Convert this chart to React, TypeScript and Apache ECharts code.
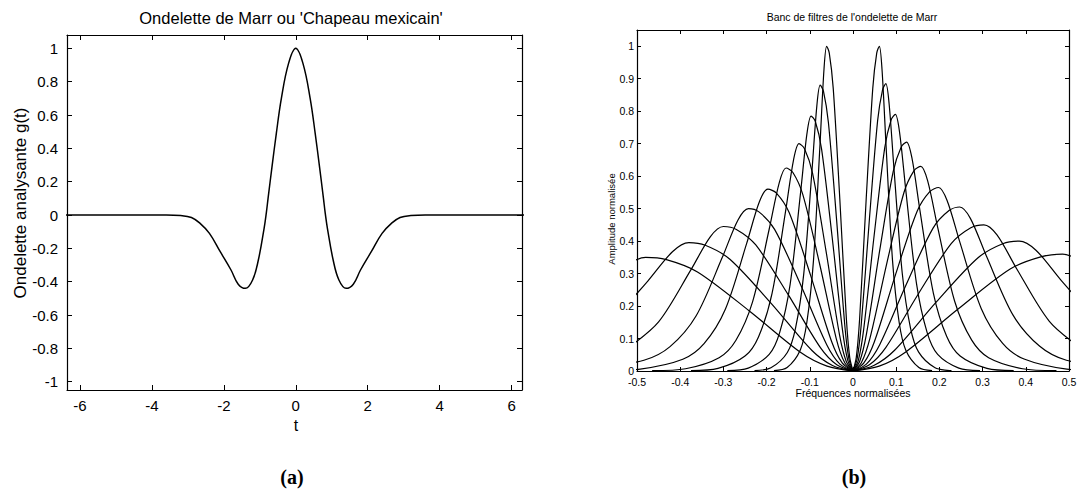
import React, { useEffect, useRef } from "react";
import * as echarts from "echarts";

// ---------- Panel (a): Marr wavelet g(t) ----------
const tValues = [-6.4, -3.6, -3.2, -2.9, -2.66, -2.4, -2.1, -1.8, -1.6, -1.4, -1.2, -1.04, -0.88, -0.82, -0.77, -0.66, -0.54, -0.4, -0.2, 0, 0.2, 0.4, 0.54, 0.66, 0.77, 0.82, 0.88, 1.04, 1.2, 1.4, 1.6, 1.8, 2.1, 2.4, 2.66, 2.9, 3.2, 3.6, 6.4];
const gValues = [0, 0, -0.003, -0.015, -0.05, -0.11, -0.22, -0.33, -0.415, -0.44, -0.39, -0.27, -0.08, 0.01, 0.1, 0.29, 0.49, 0.7, 0.91, 1.0, 0.91, 0.7, 0.49, 0.29, 0.1, 0.01, -0.08, -0.27, -0.39, -0.44, -0.415, -0.33, -0.22, -0.11, -0.05, -0.015, -0.003, 0, 0];
const aXTicks = [-6, -4, -2, 0, 2, 4, 6];
const aYTicks = [-1, -0.8, -0.6, -0.4, -0.2, 0, 0.2, 0.4, 0.6, 0.8, 1];

// ---------- Panel (b): Marr wavelet filter bank ----------
const bXTicks = [-0.5, -0.4, -0.3, -0.2, -0.1, 0, 0.1, 0.2, 0.3, 0.4, 0.5];
const bYTicks = [0, 0.1, 0.2, 0.3, 0.4, 0.5, 0.6, 0.7, 0.8, 0.9, 1];

const bankRightFreq: number[][] = [
  [0, 0.0076, 0.0153, 0.0305, 0.0458, 0.0549, 0.061, 0.0671, 0.0763, 0.0915, 0.1068, 0.122, 0.1525, 0.183],
  [0, 0.0095, 0.019, 0.038, 0.057, 0.0684, 0.076, 0.0836, 0.095, 0.114, 0.133, 0.152, 0.19, 0.228],
  [0, 0.0123, 0.0245, 0.049, 0.0735, 0.0882, 0.098, 0.1078, 0.1225, 0.147, 0.1715, 0.196, 0.245, 0.294],
  [0, 0.0155, 0.031, 0.062, 0.093, 0.1116, 0.124, 0.1364, 0.155, 0.186, 0.217, 0.248, 0.31, 0.372],
  [0, 0.0196, 0.0393, 0.0785, 0.1178, 0.1413, 0.157, 0.1727, 0.1963, 0.2355, 0.2748, 0.314, 0.3925, 0.471],
  [0, 0.0248, 0.0495, 0.099, 0.1485, 0.1782, 0.198, 0.2178, 0.2475, 0.297, 0.3465, 0.396, 0.495, 0.594],
  [0, 0.0309, 0.0618, 0.1235, 0.1853, 0.2223, 0.247, 0.2717, 0.3088, 0.3705, 0.4323, 0.494, 0.6175],
  [0, 0.0379, 0.0758, 0.1515, 0.2273, 0.2727, 0.303, 0.3333, 0.3788, 0.4545, 0.5303],
  [0, 0.0481, 0.0963, 0.1925, 0.2888, 0.3465, 0.385, 0.4235, 0.4813, 0.5775],
  [0, 0.0606, 0.1213, 0.2425, 0.3638, 0.4365, 0.485, 0.5335],
];
const bankRightAmp: number[][] = [
  [0, 0.042, 0.16, 0.529, 0.871, 0.979, 1.0, 0.93, 0.7, 0.34, 0.15, 0.065, 0.011, 0.001],
  [0, 0.037, 0.142, 0.468, 0.771, 0.866, 0.885, 0.823, 0.62, 0.301, 0.133, 0.058, 0.01, 0.001],
  [0, 0.033, 0.126, 0.418, 0.688, 0.773, 0.79, 0.735, 0.553, 0.269, 0.119, 0.051, 0.009, 0.001],
  [0, 0.03, 0.113, 0.373, 0.614, 0.69, 0.705, 0.656, 0.494, 0.24, 0.106, 0.046, 0.008, 0.001],
  [0, 0.026, 0.101, 0.333, 0.549, 0.617, 0.63, 0.586, 0.441, 0.214, 0.095, 0.041, 0.007, 0.001],
  [0, 0.024, 0.09, 0.299, 0.492, 0.553, 0.565, 0.525, 0.396, 0.192, 0.085, 0.037, 0.006, 0.001],
  [0, 0.021, 0.081, 0.267, 0.44, 0.494, 0.505, 0.47, 0.354, 0.172, 0.076, 0.033, 0.006],
  [0, 0.019, 0.072, 0.238, 0.392, 0.441, 0.45, 0.419, 0.315, 0.153, 0.068],
  [0, 0.017, 0.064, 0.212, 0.348, 0.392, 0.4, 0.372, 0.28, 0.136],
  [0, 0.015, 0.058, 0.19, 0.314, 0.352, 0.36, 0.335],
];
const bankLeftFreq: number[][] = [
  [0, -0.0076, -0.0153, -0.0305, -0.0458, -0.0549, -0.061, -0.0671, -0.0763, -0.0915, -0.1068, -0.122, -0.1525, -0.183],
  [0, -0.0095, -0.019, -0.038, -0.057, -0.0684, -0.076, -0.0836, -0.095, -0.114, -0.133, -0.152, -0.19, -0.228],
  [0, -0.0121, -0.0243, -0.0485, -0.0728, -0.0873, -0.097, -0.1067, -0.1213, -0.1455, -0.1698, -0.194, -0.2425, -0.291],
  [0, -0.0156, -0.0313, -0.0625, -0.0938, -0.1125, -0.125, -0.1375, -0.1563, -0.1875, -0.2188, -0.25, -0.3125, -0.375],
  [0, -0.0194, -0.0388, -0.0775, -0.1163, -0.1395, -0.155, -0.1705, -0.1938, -0.2325, -0.2713, -0.31, -0.3875, -0.465],
  [0, -0.0246, -0.0493, -0.0985, -0.1478, -0.1773, -0.197, -0.2167, -0.2463, -0.2955, -0.3448, -0.394, -0.4925, -0.591],
  [0, -0.0303, -0.0605, -0.121, -0.1815, -0.2178, -0.242, -0.2662, -0.3025, -0.363, -0.4235, -0.484, -0.605],
  [0, -0.0375, -0.075, -0.15, -0.225, -0.27, -0.3, -0.33, -0.375, -0.45, -0.525],
  [0, -0.0475, -0.095, -0.19, -0.285, -0.342, -0.38, -0.418, -0.475, -0.57],
  [0, -0.06, -0.12, -0.24, -0.36, -0.432, -0.48, -0.528],
];
const bankLeftAmp: number[][] = [
  [0, 0.042, 0.16, 0.529, 0.871, 0.979, 1.0, 0.93, 0.7, 0.34, 0.15, 0.065, 0.011, 0.001],
  [0, 0.037, 0.141, 0.466, 0.766, 0.862, 0.88, 0.818, 0.616, 0.299, 0.132, 0.057, 0.01, 0.001],
  [0, 0.033, 0.126, 0.415, 0.684, 0.769, 0.785, 0.73, 0.55, 0.267, 0.118, 0.051, 0.009, 0.001],
  [0, 0.029, 0.112, 0.37, 0.61, 0.685, 0.7, 0.651, 0.49, 0.238, 0.105, 0.046, 0.008, 0.001],
  [0, 0.026, 0.1, 0.331, 0.544, 0.612, 0.625, 0.581, 0.438, 0.213, 0.094, 0.041, 0.007, 0.001],
  [0, 0.024, 0.09, 0.296, 0.488, 0.548, 0.56, 0.521, 0.392, 0.19, 0.084, 0.036, 0.006, 0.001],
  [0, 0.021, 0.08, 0.265, 0.436, 0.49, 0.5, 0.465, 0.35, 0.17, 0.075, 0.033, 0.006],
  [0, 0.019, 0.071, 0.235, 0.388, 0.436, 0.445, 0.414, 0.312, 0.151, 0.067],
  [0, 0.017, 0.063, 0.209, 0.344, 0.387, 0.395, 0.367, 0.277, 0.134],
  [0, 0.015, 0.056, 0.185, 0.305, 0.343, 0.35, 0.326],
];

const FONT = "'Liberation Sans', Arial, Helvetica, sans-serif";

function axisCommon(min: number, max: number, ticks: number[], position: string, gridIndex: number, showLabel: boolean, fontSize: number, margin: number, tickLen: number) {
  return {
    type: "value",
    gridIndex,
    position,
    min,
    max,
    axisLine: { show: true, onZero: false, lineStyle: { color: "#000", width: 1.2 } },
    axisTick: { show: true, inside: true, length: tickLen, customValues: ticks, lineStyle: { color: "#000", width: 1 } },
    axisLabel: {
      show: showLabel,
      customValues: ticks,
      color: "#000",
      fontSize,
      fontFamily: FONT,
      margin,
      showMinLabel: true,
      showMaxLabel: true,
    },
    splitLine: { show: false },
  };
}

export default function App() {
  const ref = useRef<HTMLDivElement>(null);
  useEffect(() => {
    if (!ref.current) return;
    const chart = echarts.init(ref.current, undefined, { renderer: "svg" });

    const bankSeries: any[] = [];
    const addBank = (freqs: number[][], amps: number[][]) => {
      freqs.forEach((fs, k) => {
        bankSeries.push({
          type: "line",
          xAxisIndex: 2,
          yAxisIndex: 2,
          data: fs.map((f, i) => [f, amps[k][i]]),
          showSymbol: false,
          smooth: 0.3,
          clip: true,
          lineStyle: { color: "#000", width: 1.2 },
        });
      });
    };
    addBank(bankRightFreq, bankRightAmp);
    addBank(bankLeftFreq, bankLeftAmp);

    const option: any = {
      animation: false,
      backgroundColor: "#fff",
      grid: [
        { left: 67, top: 35, width: 455, height: 355, outerBoundsMode: "none" },
        { left: 637, top: 30, width: 432, height: 341, outerBoundsMode: "none" },
      ],
      xAxis: [
        axisCommon(-6.36, 6.29, aXTicks, "bottom", 0, true, 15, 8, 5),
        axisCommon(-6.36, 6.29, aXTicks, "top", 0, false, 15, 8, 5),
        axisCommon(-0.5, 0.5, bXTicks, "bottom", 1, true, 10.5, 5, 4),
        axisCommon(-0.5, 0.5, bXTicks, "top", 1, false, 10.5, 5, 4),
      ],
      yAxis: [
        axisCommon(-1.05, 1.08, aYTicks, "left", 0, true, 15, 9, 5),
        axisCommon(-1.05, 1.08, aYTicks, "right", 0, false, 15, 9, 5),
        axisCommon(0, 1.05, bYTicks, "left", 1, true, 10.5, 3, 4),
        axisCommon(0, 1.05, bYTicks, "right", 1, false, 10.5, 3, 4),
      ],
      series: [
        {
          type: "line",
          xAxisIndex: 0,
          yAxisIndex: 0,
          data: tValues.map((t, i) => [t, gValues[i]]),
          showSymbol: false,
          smooth: 0.4,
          clip: true,
          lineStyle: { color: "#000", width: 1.5 },
        },
        ...bankSeries,
      ],
      graphic: [
        { type: "text", x: 291, y: 18, style: { text: "Ondelette de Marr ou 'Chapeau mexicain'", fill: "#000", font: `16.5px ${FONT}`, textAlign: "center", textVerticalAlign: "middle" } },
        { type: "text", x: 296, y: 425, style: { text: "t", fill: "#000", font: `16px ${FONT}`, textAlign: "center", textVerticalAlign: "middle" } },
        { type: "text", x: 20, y: 203, rotation: Math.PI / 2, style: { text: "Ondelette analysante g(t)", fill: "#000", font: `17px ${FONT}`, textAlign: "center", textVerticalAlign: "middle" } },
        { type: "text", x: 852, y: 17, style: { text: "Banc de filtres de l'ondelette de Marr", fill: "#000", font: `10.5px ${FONT}`, textAlign: "center", textVerticalAlign: "middle" } },
        { type: "text", x: 853, y: 393, style: { text: "Fréquences normalisées", fill: "#000", font: `10.5px ${FONT}`, textAlign: "center", textVerticalAlign: "middle" } },
        { type: "text", x: 611, y: 219, rotation: Math.PI / 2, style: { text: "Amplitude normalisée", fill: "#000", font: `9.5px ${FONT}`, textAlign: "center", textVerticalAlign: "middle" } },
        { type: "text", x: 292, y: 477, style: { text: "(a)", fill: "#000", font: `bold 20px 'Liberation Serif', 'Times New Roman', serif`, textAlign: "center", textVerticalAlign: "middle" } },
        { type: "text", x: 854, y: 477, style: { text: "(b)", fill: "#000", font: `bold 20px 'Liberation Serif', 'Times New Roman', serif`, textAlign: "center", textVerticalAlign: "middle" } },
      ],
    };
    chart.setOption(option);
    return () => chart.dispose();
  }, []);
  return <div ref={ref} style={{ position: "absolute", left: 0, top: 0, width: 1079, height: 490, background: "#fff" }} />;
}
